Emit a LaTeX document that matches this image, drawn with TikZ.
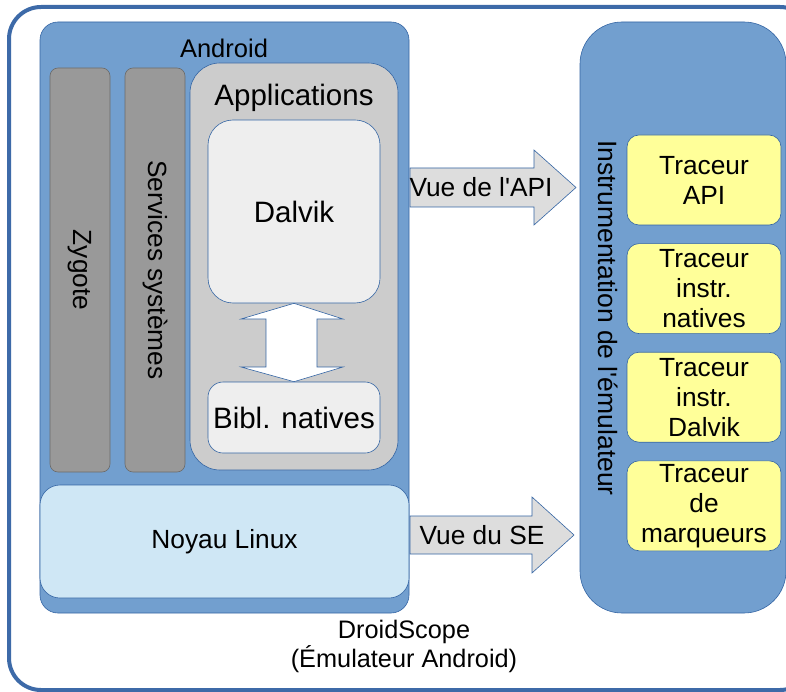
\documentclass[tikz,border=0pt]{standalone}
\usepackage{fontspec}
\setmainfont{Liberation Sans}
\usetikzlibrary{positioning}

\definecolor{cadre}{HTML}{3D6AA8}
\definecolor{bleu}{HTML}{729FCF}
\definecolor{bleubord}{HTML}{3465A4}
\definecolor{gris}{HTML}{999999}
\definecolor{grisclair}{HTML}{CCCCCC}
\definecolor{blanccasse}{HTML}{EEEEEE}
\definecolor{noyau}{HTML}{CFE7F5}
\definecolor{jaune}{HTML}{FFFF99}
\definecolor{fleche}{HTML}{DDDDDD}

\tikzset{
    bloc/.style={draw=bleubord, line width=0.6pt, rounded corners=#1, inner sep=0pt, align=center},
    bloc/.default=12pt,
    traceur/.style={bloc=12pt, fill=jaune, minimum width=154pt, minimum height=90pt, font=\fontsize{26.3}{30}\selectfont},
    colonne/.style={bloc=8pt, fill=gris, draw=gris!70!black, minimum width=60pt, minimum height=404pt},
    vue/.style={draw=bleubord, line width=0.6pt, fill=fleche},
    texte/.style={font=\fontsize{26.3}{30}\selectfont},
    grand/.style={font=\fontsize{29.5}{33}\selectfont}
}

\begin{document}
\begin{tikzpicture}[x=1pt, y=-1pt]
    \useasboundingbox (0,0) rectangle (786,692);
    \clip (0,0) rectangle (786,692);

    % Cadre de l'emulateur
    \draw[cadre, line width=4pt, rounded corners=32pt, fill=white] (9,7) rectangle (812,690);

    % Pile Android
    \node[bloc=18pt, fill=bleu, minimum width=369pt, minimum height=591pt] (android) at (224.5,317.5) {};
    \node[font=\fontsize{25.5}{29}\selectfont] (titreandroid) at (224,48) {Android};

    % Colonnes verticales
    \node[colonne] (zygote) at (80,270) {};
    \node[rotate=-90, texte] (zygotetxt) at (zygote) {Zygote};
    \node[colonne] (services) at (155,270) {};
    \node[rotate=-90, texte] (servicestxt) at (services) {Services systèmes};

    % Applications, Dalvik et bibliotheques natives
    \node[bloc=30pt, fill=grisclair, minimum width=208pt, minimum height=407pt] (applis) at (294,266.5) {};
    \node[grand] (titreapplis) at (294,98) {Applications};
    \node[bloc=25pt, fill=blanccasse, minimum width=172pt, minimum height=183pt, grand] (dalvik) at (294,211.5) {Dalvik};
    \node[bloc=15pt, fill=blanccasse, minimum width=172pt, minimum height=71pt, grand] (bibl) at (294,417.5) {Bibl. natives};

    % Double fleche entre Dalvik et les bibliotheques
    \draw[vue, fill=white] (dalvik.south) -- (343,319) -- (317,319) -- (317,367) -- (343,367)
        -- (bibl.north) -- (241,367) -- (266,367) -- (266,319) -- (241,319) -- cycle;

    % Noyau
    \node[bloc=20pt, fill=noyau, minimum width=369pt, minimum height=113pt, texte] (linux) at (224.5,541.5) {Noyau Linux};

    % Instrumentation de l'emulateur
    \node[bloc=42pt, fill=bleu, minimum width=206pt, minimum height=591pt] (instru) at (683,317.5) {};
    \node[rotate=-90, font=\fontsize{26.5}{31}\selectfont] (instrutxt) at (608,318) {Instrumentation de l\textquotesingle émulateur};

    % Traceurs
    \node[traceur] (api) at (704,180) {Traceur\\API};
    \node[traceur, below=18pt of api] (natives) {Traceur\\instr.\\natives};
    \node[traceur, below=18pt of natives] (idalvik) {Traceur\\instr.\\Dalvik};
    \node[traceur, below=18pt of idalvik] (marqueurs) {Traceur\\de\\marqueurs};

    % Fleches de vue
    \draw[vue] (410,168) -- (534,168) -- (534,150) -- (576,187.5) -- (534,225) -- (534,207) -- (410,207) -- cycle;
    \node[texte] (vueapi) at (481,187) {Vue de l\textquotesingle API};
    \draw[vue] (410,516) -- (532,516) -- (532,497) -- (574,535) -- (532,573) -- (532,554) -- (410,554) -- cycle;
    \node[texte] (vuese) at (482,535) {Vue du SE};

    % Legende
    \node[align=center, font=\fontsize{25.3}{29}\selectfont] (droidscope) at (404,646) {DroidScope\\(Émulateur Android)};
\end{tikzpicture}
\end{document}
